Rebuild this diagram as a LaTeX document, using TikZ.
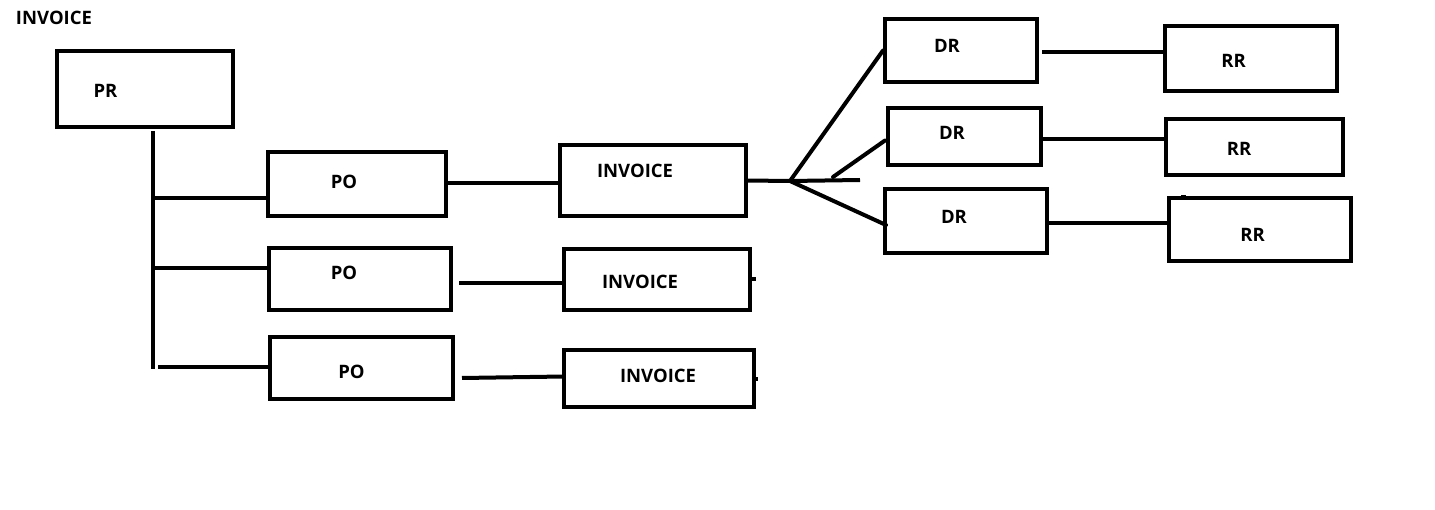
\documentclass[tikz,border=0pt]{standalone}
\usepackage{fontspec}
\setmainfont{Open Sans}
\begin{document}
\begin{tikzpicture}[x=1pt,y=-1pt,
  box/.style={draw=black,line width=4pt,rectangle,inner sep=0pt,outer sep=0pt},
  lbl/.style={inner sep=0pt,anchor=center,font=\fontsize{18.5}{22}\selectfont\bfseries},
  wire/.style={draw=black,line width=4pt}]
\useasboundingbox[fill=white] (0,0) rectangle (1435,510);
% title
\node[lbl] (title) at (54,17.5) {INVOICE};
% boxes
\node[box,minimum width=176pt,minimum height=76pt] (pr) at (145,89) {};
\node[box,minimum width=178pt,minimum height=64pt] (po1) at (357,184) {};
\node[box,minimum width=182pt,minimum height=62pt] (po2) at (360,279) {};
\node[box,minimum width=183pt,minimum height=62pt] (po3) at (361.5,368) {};
\node[box,minimum width=186pt,minimum height=71pt] (inv1) at (653,180.5) {};
\node[box,minimum width=186pt,minimum height=61pt] (inv2) at (657,279.5) {};
\node[box,minimum width=190pt,minimum height=57pt] (inv3) at (659,378.5) {};
\node[box,minimum width=152pt,minimum height=63pt] (dr1) at (961,50.5) {};
\node[box,minimum width=153pt,minimum height=57pt] (dr2) at (964.5,136.5) {};
\node[box,minimum width=162pt,minimum height=64pt] (dr3) at (966,221) {};
\node[box,minimum width=172pt,minimum height=65pt] (rr1) at (1251,58.5) {};
\node[box,minimum width=177pt,minimum height=56pt] (rr2) at (1254.5,147) {};
\node[box,minimum width=182pt,minimum height=63pt] (rr3) at (1260,229.5) {};
% labels
\node[lbl] (prt) at (105.5,91) {PR};
\node[lbl] (po1t) at (344,182) {PO};
\node[lbl] (po2t) at (344,273) {PO};
\node[lbl] (po3t) at (351.5,372) {PO};
\node[lbl] (inv1t) at (635,171) {INVOICE};
\node[lbl] (inv2t) at (640,282) {INVOICE};
\node[lbl] (inv3t) at (658,376) {INVOICE};
\node[lbl] (dr1t) at (947,46) {DR};
\node[lbl] (dr2t) at (952,133) {DR};
\node[lbl] (dr3t) at (954,217) {DR};
\node[lbl] (rr1t) at (1233.5,61) {RR};
\node[lbl] (rr2t) at (1239,149) {RR};
\node[lbl] (rr3t) at (1252.5,235) {RR};
% trunk from PR
\coordinate (tb) at (153,369);
\coordinate (j1) at (153,198);
\coordinate (j2) at (153,268);
\coordinate (j3) at (158,367);
\draw[wire] ([shift={(8,4)}]pr.south) -- (tb);
\draw[wire] (j1) -- (j1 -| po1.west);
\draw[wire] (j2) -- (j2 -| po2.west);
\draw[wire] (j3) -- (j3 -| po3.west);
% PO -> INVOICE
\draw[wire] ([shift={(0,-1)}]po1.east) -- ([shift={(0,-1)}]po1.east -| inv1.west);
\coordinate (p2) at ([shift={(8,4)}]po2.east);
\draw[wire] (p2) -- (p2 -| inv2.west);
\draw[wire] ([shift={(9,10)}]po3.east) -- ([shift={(0,-2)}]inv3.west);
% stubs
\draw[wire] (inv2.east) -- ++(6,0);
\draw[wire] ([shift={(0,0.5)}]inv3.east) -- ++(4,0);
\draw[wire,line width=5pt] ([shift={(-77,-31)}]rr3.center) -- ++(0,-3);
% fan to DR
\coordinate (fan) at (790,181);
\coordinate (fanend) at (860,180);
\coordinate (f2) at (833,177);
\draw[wire] (inv1.east) -- (fan) -- (fanend);
\draw[wire,line cap=round] (fan) -- ([shift={(-2,0)}]dr1.west);
\draw[wire,line cap=round] (f2) -- ([shift={(-3,4)}]dr2.west);
\draw[wire,line cap=round] (fan) -- ([shift={(1,4)}]dr3.west);
% DR -> RR
\coordinate (d1) at ([shift={(5,1.5)}]dr1.east);
\draw[wire] (d1) -- (d1 -| rr1.west);
\coordinate (d2) at ([shift={(2,2.5)}]dr2.east);
\draw[wire] (d2) -- (d2 -| rr2.west);
\coordinate (d3) at ([shift={(0,2)}]dr3.east);
\draw[wire] (d3) -- (d3 -| rr3.west);
\end{tikzpicture}
\end{document}
